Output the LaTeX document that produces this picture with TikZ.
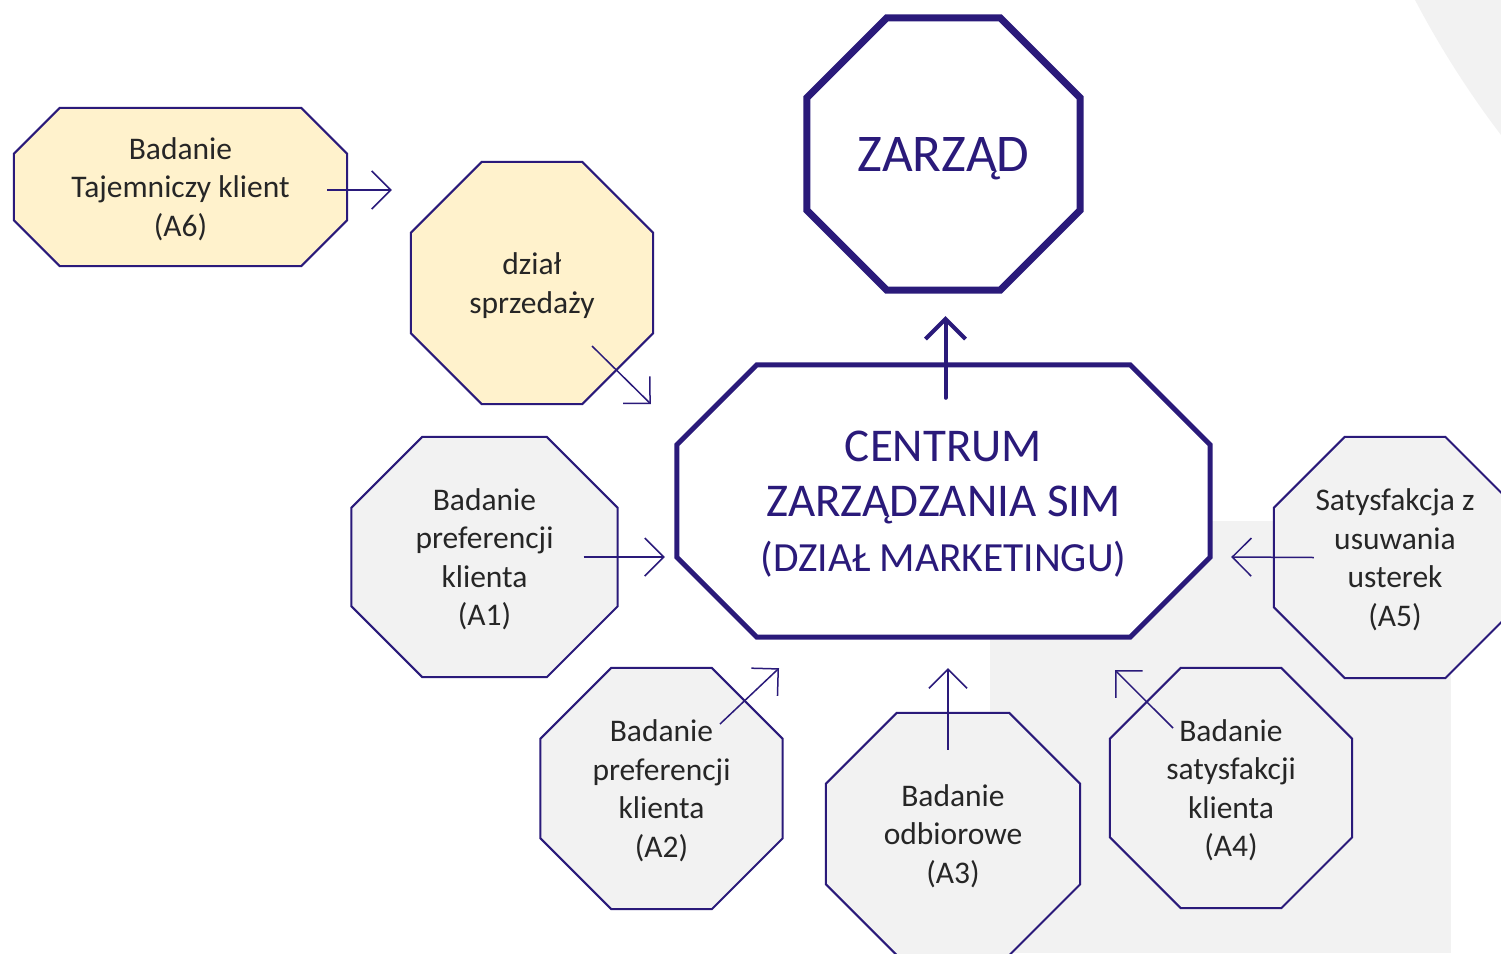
\documentclass[tikz,border=0pt]{standalone}
\usepackage{fontspec}
\setmainfont{Carlito}
\usetikzlibrary{arrows.meta,calc,backgrounds}
\definecolor{linecol}{RGB}{42,26,122}
\definecolor{txtcol}{RGB}{38,38,38}
\definecolor{beige}{RGB}{255,242,204}
\definecolor{bggray}{RGB}{242,242,242}

% octagon round a node: #1 style, #2 node, #3 corner cut
\newcommand\octo[3][]{%
  \draw[#1] ($(#2.north west)+(#3,0)$) -- ($(#2.north east)+(-#3,0)$) -- ($(#2.north east)+(0,#3)$)
    -- ($(#2.south east)+(0,-#3)$) -- ($(#2.south east)+(-#3,0)$) -- ($(#2.south west)+(#3,0)$)
    -- ($(#2.south west)+(0,-#3)$) -- ($(#2.north west)+(0,#3)$) -- cycle;}

\begin{document}
\begin{tikzpicture}[x=1pt, y=-1pt,
  every node/.style={rectangle, inner sep=0pt, align=center, text=txtcol, text depth=0pt, font=\fontsize{31.5}{38.5}\selectfont},
  study/.style={minimum width=242pt, minimum height=241pt},
  octline/.style={draw=linecol, line width=2pt},
  head/.style={text=linecol},
  arr/.style={draw=linecol, line width=1.5pt, -{Straight Barb[length=19pt,width=38pt]}}]
\useasboundingbox (0,0) rectangle (1501,953);
\clip (0,0) rectangle (1501,953);

% top
\node[head, minimum width=273pt, minimum height=272pt, font=\fontsize{53}{60}\selectfont] (zarzad) at (943.5,154) {ZARZĄD};
\node[head, minimum width=533pt, minimum height=272pt, font=\fontsize{47}{55}\selectfont] (centrum) at (943.5,501) {CENTRUM\\ZARZĄDZANIA SIM\\{\fontsize{41.5}{55}\selectfont(DZIAŁ MARKETINGU)}};

% sales side
\node[minimum width=333pt, minimum height=158pt] (a6) at (180.5,187) {Badanie\\Tajemniczy klient\\(A6)};
\node[minimum width=242pt, minimum height=242pt] (sprzedaz) at (532,283) {dział\\sprzedaży};

% studies
\node[study, minimum width=266pt, minimum height=240pt] (a1) at (484.5,557) {Badanie\\preferencji\\klienta\\(A1)};
\node[study] (a2) at (661.5,788.5) {Badanie\\preferencji\\klienta\\(A2)};
\node[study, minimum width=254pt, minimum height=242pt] (a3) at (953,834) {Badanie\\odbiorowe\\(A3)};
\node[study, minimum height=240pt] (a4) at (1231,788) {Badanie\\satysfakcji\\klienta\\(A4)};
\node[study] (a5) at (1395,557.5) {Satysfakcja z\\usuwania\\usterek\\(A5)};

\begin{scope}[on background layer]
\fill[bggray] (990,521) rectangle (1451,953);
\fill[bggray] (2274,-451) circle (970);
\octo[octline, line width=7pt, fill=white]{zarzad}{80}
\octo[octline, line width=5pt, fill=white]{centrum}{80}
\octo[octline, fill=beige]{a6}{46}
\octo[octline, fill=beige]{sprzedaz}{71}
\foreach \n in {a1,a2,a3,a4,a5}
  \octo[octline, fill=bggray]{\n}{71};
\end{scope}

% arrows
\draw[arr] ($(a6.east)+(-20,3)$) -- ($(sprzedaz.west)+(-19,-93)$);
\draw[arr] ($(sprzedaz.center)+(60,63)$) -- ($(centrum.west)+(-26,-97)$);
\draw[arr, line width=4pt, line cap=round, -{Straight Barb[length=20pt,width=40pt]}] ($(centrum.north)+(2,33)$) -- ($(zarzad.south)+(2,26)$);
\draw[arr] ($(a1.east)+(-34,0)$) -- ($(centrum.west)+(-12,56)$);
\draw[arr] ($(a5.west)+(40,0)$) -- ($(centrum.east)+(21,56)$);
\draw[arr] ($(a2.center)+(58.5,-64.5)$) -- ($(centrum.south)+(-164.5,31)$);
\draw[arr] ($(a3.north)+(-5,37)$) -- ($(centrum.south)+(4.5,31)$);
\draw[arr] ($(a4.center)+(-58,-60)$) -- ($(centrum.south)+(171.5,33)$);
\end{tikzpicture}
\end{document}
